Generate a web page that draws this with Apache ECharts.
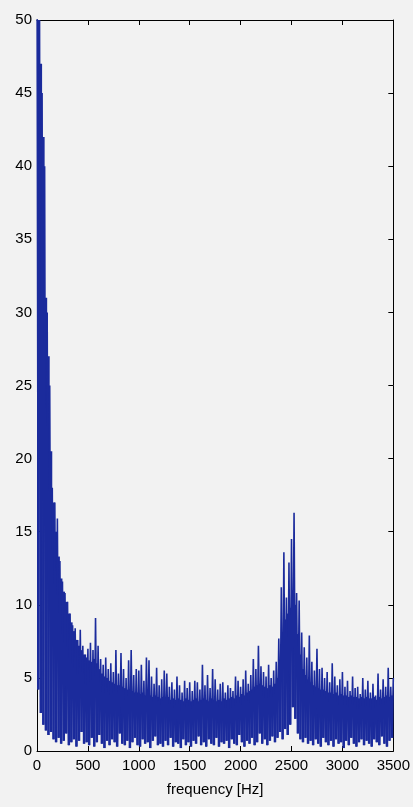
<!DOCTYPE html>
<html>
<head>
<meta charset="utf-8">
<script src="https://cdn.jsdelivr.net/npm/echarts@6/dist/echarts.min.js"></script>
<style>
  html, body { margin: 0; padding: 0; background: #f2f2f2; }
  #chart { width: 413px; height: 807px; }
</style>
</head>
<body>
<div id="chart"></div>
<script>
// spectrum peaks, one every 25 Hz from 0 to 3500
const peakFreqStep = 25;
const peakValues = [
  56, 50, 45, 40, 30, 25, 18, 17, 15.9, 13,
  11.6, 10.8, 10.2, 9.4, 8.6, 8.4, 7.6, 8.3, 7.2, 6.6,
  7.0, 7.4, 6.9, 9.1, 7.2, 6.3, 5.9, 6.4, 5.6, 6.0,
  5.4, 6.9, 5.3, 6.7, 5.6, 5.0, 6.2, 6.9, 5.2, 5.6,
  5.5, 5.9, 4.8, 6.4, 6.2, 5.1, 4.6, 5.7, 4.5, 4.9,
  5.5, 5.3, 4.4, 4.7, 4.2, 5.1, 4.5, 4.0, 4.8, 4.3,
  4.7, 4.1, 4.8, 4.7, 4.2, 5.9, 4.5, 5.2, 4.3, 5.6,
  4.9, 4.2, 4.6, 4.7, 4.0, 4.5, 4.3, 4.1, 5.1, 4.8,
  4.4, 4.9, 5.5, 4.6, 5.2, 6.3, 5.6, 7.2, 5.8, 5.4,
  5.1, 5.9, 5.0, 5.5, 6.1, 7.7, 11.2, 13.6, 10.5, 12.9,
  14.5, 16.3, 10.8, 10.3, 8.1, 7.1, 6.4, 7.9, 6.1, 5.5,
  7.0, 5.6, 5.7, 5.0, 5.4, 4.7, 6.0, 5.1, 4.5, 4.9,
  5.4, 4.4, 4.8, 4.1, 5.1, 4.3, 4.4, 3.9, 5.0, 4.2,
  4.8, 4.0, 4.6, 3.8, 5.3, 4.2, 4.9, 4.4, 5.7, 4.4,
  5.0
];
// spectrum dips, halfway between the peaks (12.5 Hz, 37.5 Hz, ...)
const dipValues = [
  4.2, 2.6, 1.8, 1.4, 1.1, 1.3, 0.8, 0.6, 0.9, 0.5,
  0.7, 1.2, 0.4, 0.6, 0.8, 0.3, 0.7, 1.3, 0.5, 0.6,
  0.4, 0.9, 0.3, 0.6, 1.1, 0.5, 0.2, 0.7, 0.4, 0.8,
  0.6, 0.3, 1.2, 0.5, 0.4, 0.7, 0.2, 0.6, 0.9, 0.4,
  0.3, 0.8, 0.5, 0.6, 0.2, 0.7, 1.0, 0.4, 0.5, 0.3,
  0.7, 0.4, 0.9, 0.3, 0.6, 0.5, 0.2, 0.8, 0.4, 0.6,
  0.3, 0.7, 0.5, 1.0, 0.4, 0.6, 0.3, 0.8, 0.5, 0.4,
  0.9, 0.3, 0.6, 0.5, 0.7, 0.2, 0.8, 0.5, 0.4, 1.1,
  0.6, 0.3, 0.7, 0.5, 0.9, 0.4, 0.6, 1.2, 0.5, 0.8,
  0.4, 0.7, 1.0, 0.6, 0.9, 1.3, 0.8, 1.5, 1.1, 1.8,
  3.0, 2.2, 1.2, 0.8, 0.6, 0.9, 0.5, 0.7, 0.4, 0.8,
  0.5, 0.3, 0.9, 0.6, 0.4, 0.7, 0.3, 0.8, 0.5, 0.6,
  0.2, 0.7, 0.4, 0.9, 0.5, 0.3, 0.6, 0.8, 0.4, 0.7,
  0.5, 0.3, 0.8, 0.6, 0.4, 1.0, 0.5, 0.3, 0.7, 0.9
];
// top of the solid blue body, at the same frequencies as the dips
const bodyTopValues = [
  50, 47, 42, 31, 27, 20.5, 17, 15, 13.3, 11.8,
  10.9, 10.2, 9.4, 8.8, 8.2, 7.6, 7.2, 6.9, 6.6, 6.4,
  6.2, 6.1, 6.3, 6.0, 5.6, 5.3, 5.1, 5.0, 4.8, 4.7,
  4.6, 4.5, 4.5, 4.4, 4.3, 4.2, 4.2, 4.1, 4.0, 4.0,
  3.9, 4.0, 3.8, 3.9, 3.8, 3.7, 3.8, 3.7, 3.6, 3.7,
  3.6, 3.7, 3.5, 3.6, 3.5, 3.6, 3.5, 3.4, 3.6, 3.5,
  3.4, 3.5, 3.6, 3.4, 3.5, 3.6, 3.5, 3.4, 3.6, 3.5,
  3.4, 3.5, 3.4, 3.6, 3.5, 3.6, 3.7, 3.6, 3.8, 3.7,
  3.9, 3.8, 4.0, 4.1, 4.2, 4.4, 4.5, 4.6, 4.5, 4.4,
  4.3, 4.5, 4.4, 4.6, 5.0, 5.8, 7.5, 9.0, 9.4, 9.8,
  11.0, 10.0, 8.0, 6.6, 5.6, 5.2, 4.9, 4.7, 4.5, 4.4,
  4.3, 4.2, 4.2, 4.1, 4.0, 4.0, 3.9, 4.0, 3.8, 3.9,
  3.8, 3.8, 3.7, 3.8, 3.7, 3.7, 3.6, 3.7, 3.6, 3.7,
  3.6, 3.6, 3.7, 3.5, 3.7, 3.6, 3.7, 3.8, 3.7, 3.8
];
const xTicks = [0, 500, 1000, 1500, 2000, 2500, 3000, 3500];
const yTicks = [0, 5, 10, 15, 20, 25, 30, 35, 40, 45, 50];

const blue = '#1b2b9c';

// peak, dip, peak, dip ... like the raw FFT magnitude
const spectrum = [];
peakValues.forEach((v, i) => {
  spectrum.push([i * peakFreqStep, v]);
  if (i < dipValues.length) {
    spectrum.push([i * peakFreqStep + peakFreqStep / 2, dipValues[i]]);
  }
});

// solid body between dip and body top: [freq, dip, top]
const body = dipValues.map((v, i) => [i * peakFreqStep + peakFreqStep / 2, v, bodyTopValues[i]]);

const chart = echarts.init(document.getElementById('chart'));

const labelFont = {
  color: '#000',
  fontFamily: 'Liberation Sans, Arial, sans-serif',
  fontSize: 15
};

const xBase = {
  type: 'value',
  min: xTicks[0],
  max: xTicks[xTicks.length - 1],
  interval: 500,
  splitLine: { show: false },
  axisLine: { show: true, onZero: false, lineStyle: { color: '#000', width: 1 } },
  axisTick: { show: true, inside: true, length: 5, lineStyle: { color: '#000' } }
};
const yBase = {
  type: 'value',
  min: yTicks[0],
  max: yTicks[yTicks.length - 1],
  interval: 5,
  splitLine: { show: false },
  axisLine: { show: true, onZero: false, lineStyle: { color: '#000', width: 1 } },
  axisTick: { show: true, inside: true, length: 5, lineStyle: { color: '#000' } }
};

chart.setOption({
  backgroundColor: '#f2f2f2',
  animation: false,
  grid: { left: 37, right: 19, top: 20, bottom: 56 },
  xAxis: [
    Object.assign({}, xBase, {
      position: 'bottom',
      name: 'frequency [Hz]',
      nameLocation: 'middle',
      nameGap: 31,
      nameTextStyle: labelFont,
      axisLabel: Object.assign({ margin: 7, formatter: v => String(v) }, labelFont)
    }),
    Object.assign({}, xBase, { position: 'top', axisLabel: { show: false } })
  ],
  yAxis: [
    Object.assign({}, yBase, {
      position: 'left',
      axisLabel: Object.assign({ margin: 5 }, labelFont)
    }),
    Object.assign({}, yBase, { position: 'right', axisLabel: { show: false } })
  ],
  series: [
    {
      type: 'custom',
      data: body,
      encode: { x: 0, y: [1, 2] },
      clip: true,
      silent: true,
      renderItem: (params, api) => {
        const half = peakFreqStep / 2;
        const a = api.coord([api.value(0) - half, api.value(2)]);
        const b = api.coord([api.value(0) + half, api.value(1)]);
        return {
          type: 'rect',
          shape: { x: a[0], y: a[1], width: b[0] - a[0], height: b[1] - a[1] },
          style: { fill: blue }
        };
      }
    },
    {
      type: 'line',
      data: spectrum,
      showSymbol: false,
      sampling: null,
      clip: true,
      lineStyle: { color: blue, width: 1.6 }
    }
  ]
});
</script>
</body>
</html>
